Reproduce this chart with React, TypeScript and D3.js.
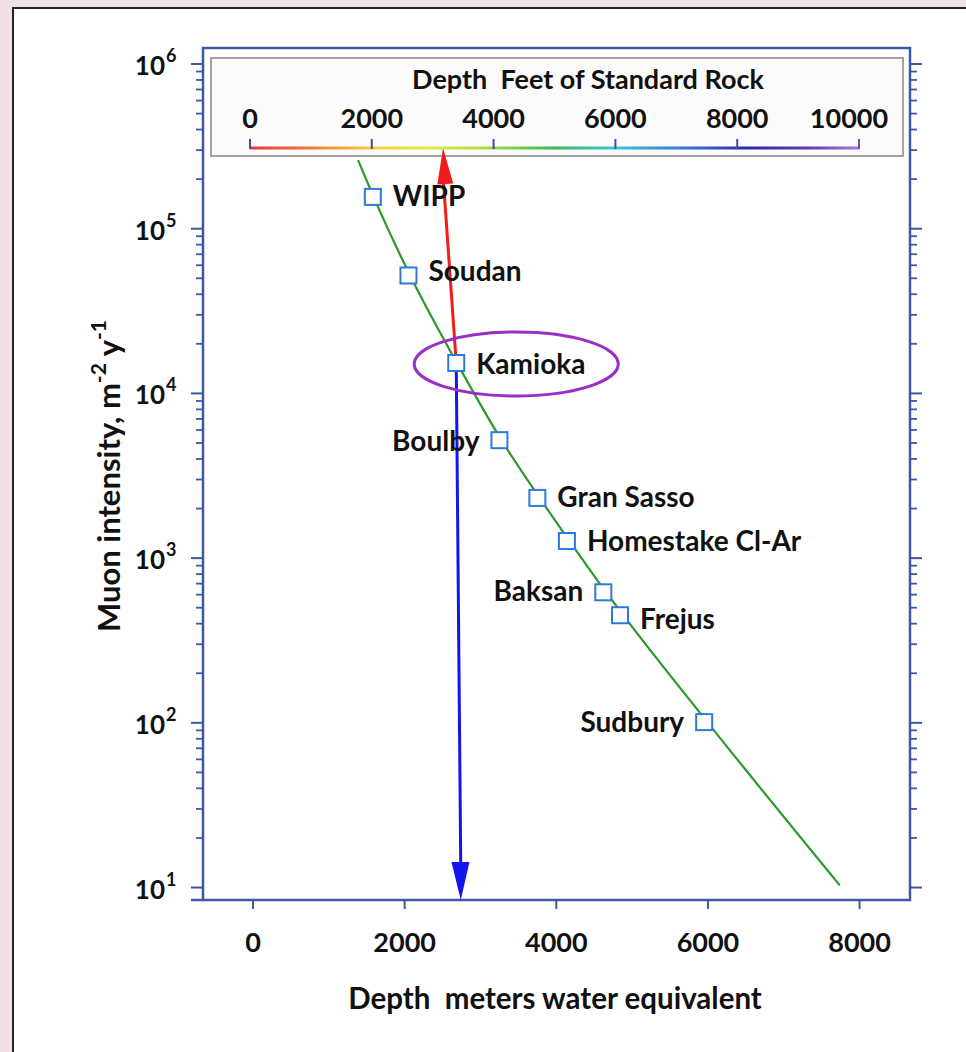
import React from "react";
import * as d3 from "d3";

// ---------- data ----------
const sites = ["WIPP", "Soudan", "Kamioka", "Boulby", "Gran Sasso", "Homestake Cl-Ar", "Baksan", "Frejus", "Sudbury"];
const depthMwe = [1580, 2050, 2680, 3250, 3750, 4140, 4620, 4840, 5950];
const muonIntensity = [1.56e5, 5.2e4, 1.53e4, 5.2e3, 2.32e3, 1.27e3, 620, 450, 101];

// depth-intensity relation curve
const curveDepth = [1385, 1620, 2100, 2700, 3300, 3800, 4200, 4680, 4900, 6000, 7740];
const curveIntensity = [2.61e5, 1.45e5, 4.9e4, 1.5e4, 5.0e3, 2.25e3, 1.22e3, 600, 440, 100, 10.3];

const xTicks = [0, 2000, 4000, 6000, 8000];
const yDecades = [1, 2, 3, 4, 5, 6];
const feetTicks = [0, 2000, 4000, 6000, 8000, 10000];

const kamiokaFeet = 3170; // red arrow tip on feet scale
const kamiokaArrowDepth = 2740; // blue arrow tip depth on bottom axis

const xDomain = [-660, 8665];
const yDomain = [8.4, 1e6];
const feetDomain = [0, 10000];

// label placement (layout)
const labelSide: Record<string, number> = {
  WIPP: 1, Soudan: 1, Kamioka: 1, Boulby: -1, "Gran Sasso": 1,
  "Homestake Cl-Ar": 1, Baksan: -1, Frejus: 1, Sudbury: -1,
};
const labelDy: Record<string, number> = {
  WIPP: -2, Soudan: -5, Kamioka: 0, Boulby: 0, "Gran Sasso": -2,
  "Homestake Cl-Ar": -1, Baksan: -2, Frejus: 3, Sudbury: -1,
};

const W = 966, H = 1052;
const plot = { left: 203, right: 910, top: 48, bottom: 900 };
const AXIS = "#3d58a6";
const FONT = "Lato, 'Open Sans', sans-serif";

export default function App() {
  const x = d3.scaleLinear().domain(xDomain).range([plot.left, plot.right]);
  const y = d3.scaleLog().domain(yDomain).range([plot.bottom, 64]);
  const fx = d3.scaleLinear().domain(feetDomain).range([250, 859]);

  const minor: number[] = [];
  for (let k = 1; k < 6; k++) for (let m = 2; m <= 9; m++) minor.push(m * Math.pow(10, k));

  const line = d3
    .line<[number, number]>()
    .x((d) => x(d[0]))
    .y((d) => y(d[1]))
    .curve(d3.curveMonotoneX);
  const curvePts: [number, number][] = curveDepth.map((d, i) => [d, curveIntensity[i]]);

  const ki = sites.indexOf("Kamioka");
  const kx = x(depthMwe[ki]);
  const ky = y(muonIntensity[ki]);
  const barY = 148;

  const arrowHead = (x0: number, y0: number, x1: number, y1: number, len: number, half: number) => {
    const dx = x1 - x0, dy = y1 - y0;
    const L = Math.hypot(dx, dy);
    const ux = dx / L, uy = dy / L;
    const bx = x1 - ux * len, by = y1 - uy * len;
    return `${x1},${y1} ${bx - uy * half},${by + ux * half} ${bx + uy * half},${by - ux * half}`;
  };

  const redTipX = fx(kamiokaFeet);
  const blueTipX = x(kamiokaArrowDepth);
  const blueTipY = plot.bottom;

  const gradStops = [
    [0, "#e8343c"], [0.1, "#f07a3a"], [0.2, "#f2d23a"], [0.3, "#e8ec3a"],
    [0.4, "#9ed84a"], [0.5, "#3cb85a"], [0.6, "#38c8d8"], [0.72, "#3a70d8"],
    [0.82, "#2a2aa8"], [0.92, "#6a3ab8"], [1, "#b070d8"],
  ];

  return (
    <svg width={W} height={H} style={{ position: "absolute", left: 0, top: 0 }} fontFamily={FONT}>
      <defs>
        <linearGradient id="rainbow" x1="0" x2="1" y1="0" y2="0">
          {gradStops.map(([o, c]) => (
            <stop key={String(o)} offset={o as number} stopColor={c as string} />
          ))}
        </linearGradient>
      </defs>
      {/* page background */}
      <rect x={0} y={0} width={W} height={H} fill="#f2e0e9" />
      <rect x={13} y={8} width={W} height={H} fill="#ffffff" stroke="#222" strokeWidth={2} />

      {/* plot frame */}
      <rect x={plot.left} y={plot.top} width={plot.right - plot.left} height={plot.bottom - plot.top}
        fill="none" stroke={AXIS} strokeWidth={2.5} />

      {/* y ticks left & right */}
      {yDecades.map((k) => {
        const v = Math.pow(10, k);
        const yy = y(v);
        return (
          <g key={"maj" + k}>
            <line x1={plot.left - 12} x2={plot.left} y1={yy} y2={yy} stroke={AXIS} strokeWidth={2} />
            <line x1={plot.right} x2={plot.right + 12} y1={yy} y2={yy} stroke={AXIS} strokeWidth={2} />
            <text x={165} y={yy + 1} textAnchor="end" dominantBaseline="central" fontSize={26} fontWeight="bold" fill="#111">
              10
            </text>
            <text x={166} y={yy - 9} textAnchor="start" dominantBaseline="central" fontSize={18} fontWeight="bold" fill="#111">
              {k}
            </text>
          </g>
        );
      })}
      {minor.map((v) => (
        <g key={"min" + v}>
          <line x1={plot.left - 7} x2={plot.left} y1={y(v)} y2={y(v)} stroke={AXIS} strokeWidth={1.8} />
          <line x1={plot.right} x2={plot.right + 7} y1={y(v)} y2={y(v)} stroke={AXIS} strokeWidth={1.8} />
        </g>
      ))}
      <line x1={plot.left - 12} x2={plot.left} y1={plot.bottom} y2={plot.bottom} stroke={AXIS} strokeWidth={2.5} />

      {/* x ticks */}
      {xTicks.map((t) => (
        <g key={"x" + t}>
          <line x1={x(t)} x2={x(t)} y1={plot.bottom} y2={plot.bottom + 9} stroke={AXIS} strokeWidth={2} />
          <text x={x(t)} y={941} textAnchor="middle" dominantBaseline="central" fontSize={27} fontWeight="bold" fill="#111">
            {t}
          </text>
        </g>
      ))}

      {/* axis titles */}
      <text x={555} y={997} textAnchor="middle" dominantBaseline="central" fontSize={29.5} fontWeight="bold" fill="#111">
        Depth{"\u00a0\u00a0"}meters water equivalent
      </text>
      <text transform={`translate(108,476) rotate(-90)`} textAnchor="middle"
        dominantBaseline="central" fontSize={31} fontWeight="bold" fill="#111">
        Muon intensity, m<tspan fontSize={21} dy={-11}>-2</tspan><tspan dy={11}> y</tspan>
        <tspan fontSize={21} dy={-11}>-1</tspan>
      </text>

      {/* legend (feet of standard rock) */}
      <rect x={211} y={58} width={692} height={98} fill="#fbfbfb" stroke="#a3a3a3" strokeWidth={2} />
      <text x={588} y={78} textAnchor="middle" dominantBaseline="central" fontSize={27} fontWeight="bold" fill="#111">
        Depth{"\u00a0\u00a0"}Feet of Standard Rock
      </text>
      <rect x={fx(0)} y={barY - 1.5} width={fx(10000) - fx(0)} height={3} fill="url(#rainbow)" />
      {feetTicks.map((t) => (
        <g key={"f" + t}>
          <line x1={fx(t)} x2={fx(t)} y1={barY + 1} y2={barY - 9} stroke={t === 10000 ? "#7a4ab8" : "#3d4ea8"} strokeWidth={2} />
          <text x={fx(t) + (t === 10000 ? -10 : 0)} y={117} textAnchor="middle" dominantBaseline="central" fontSize={27} fontWeight="bold" fill="#111">
            {t}
          </text>
        </g>
      ))}

      {/* depth-intensity curve */}
      <path d={line(curvePts) || ""} fill="none" stroke="#2a9a2a" strokeWidth={2.2} />

      {/* arrows */}
      <line x1={kx} y1={ky} x2={redTipX} y2={barY + 28} stroke="#ee1c1c" strokeWidth={3} />
      <polygon points={arrowHead(kx, ky, redTipX, barY, 36, 8)} fill="#ee1c1c" />
      <line x1={kx} y1={ky} x2={blueTipX} y2={blueTipY - 30} stroke="#1414ee" strokeWidth={3} />
      <polygon points={arrowHead(kx, ky, blueTipX, blueTipY, 38, 9)} fill="#1414ee" />

      {/* ellipse around Kamioka */}
      <ellipse cx={kx + 60} cy={ky + 1} rx={102} ry={32} fill="none" stroke="#9a2fc8" strokeWidth={3} />

      {/* markers & labels */}
      {sites.map((s, i) => {
        const px = x(depthMwe[i]);
        const py = y(muonIntensity[i]);
        const side = labelSide[s];
        return (
          <g key={s}>
            <rect x={px - 8} y={py - 8} width={16} height={16} fill="#fff" stroke="#2f7ad8" strokeWidth={2} />
            <text x={px + side * 20} y={py + labelDy[s]} textAnchor={side > 0 ? "start" : "end"} dominantBaseline="central"
              fontSize={28} fontWeight="bold" fill="#111">
              {s}
            </text>
          </g>
        );
      })}
    </svg>
  );
}
